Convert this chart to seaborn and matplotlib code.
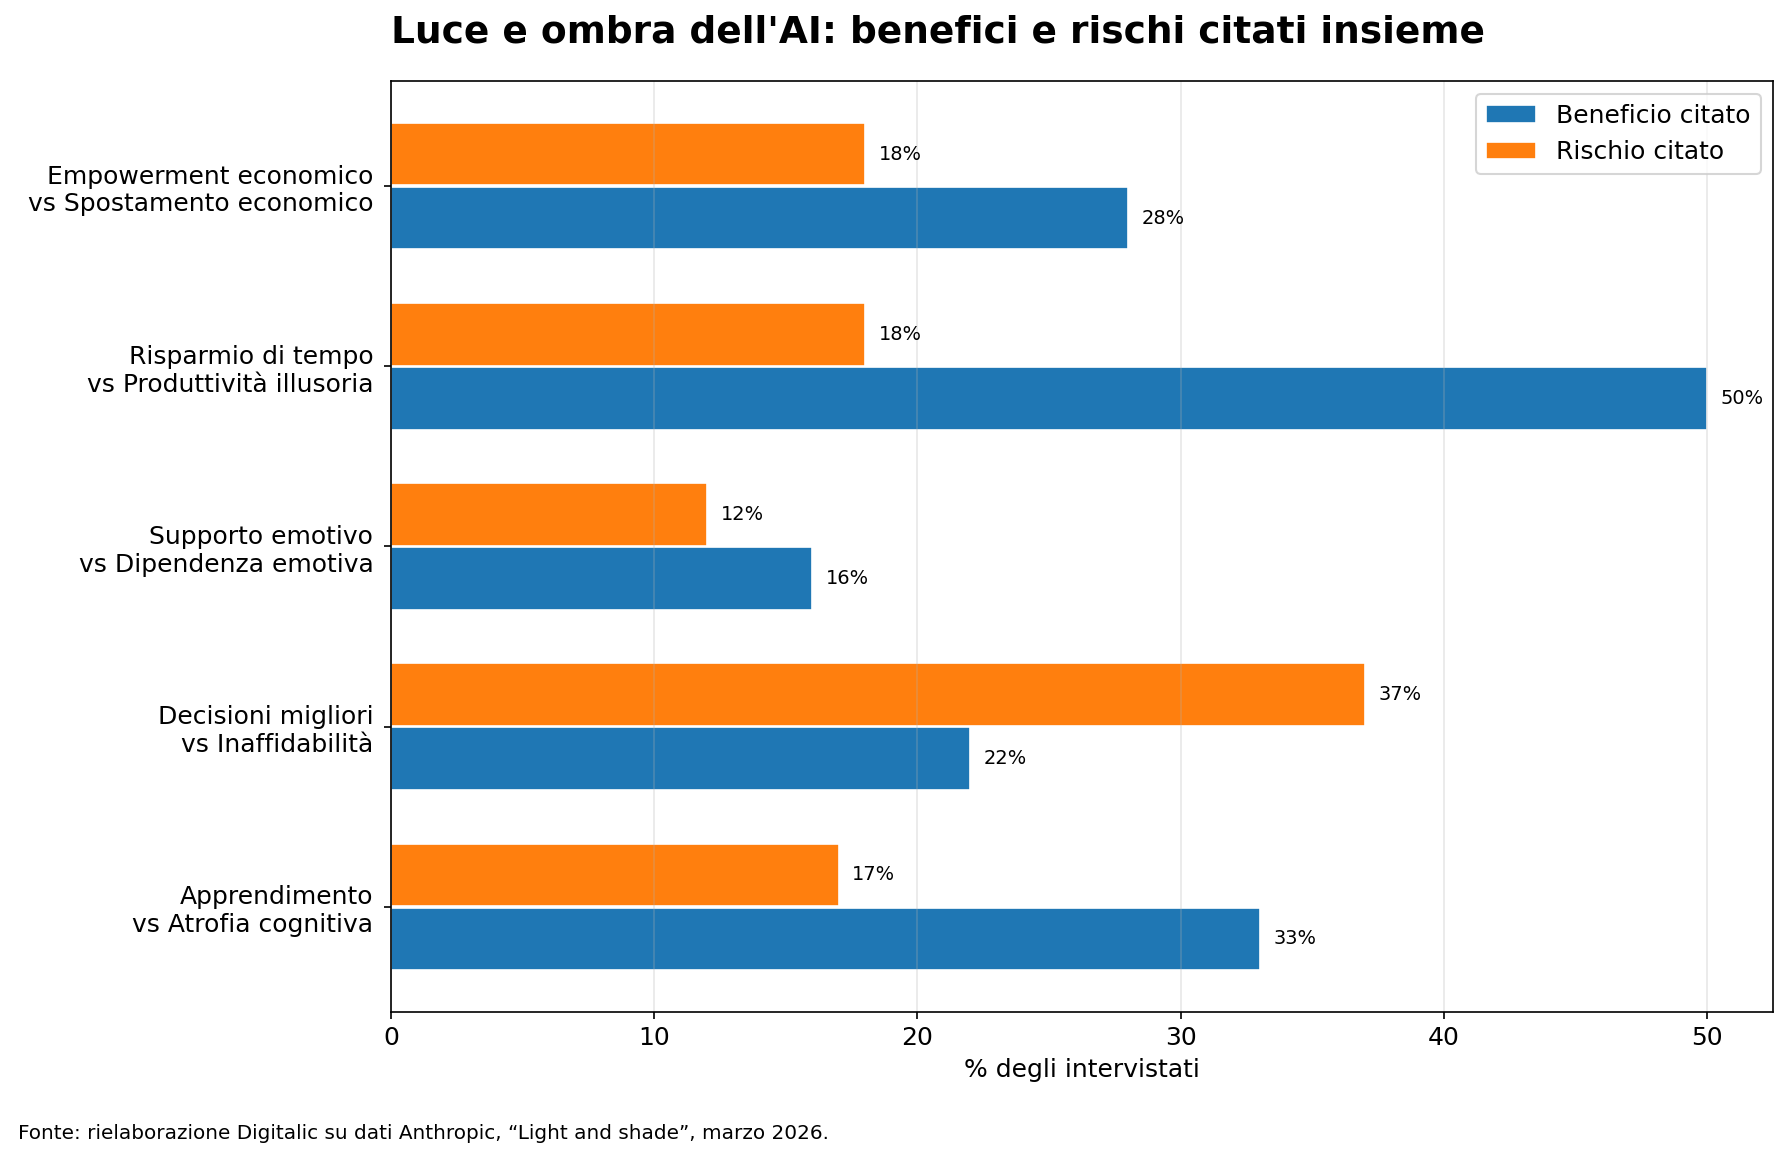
import pandas as pd
import seaborn as sns
import matplotlib.pyplot as plt

# Data
categories = [
    "Empowerment economico\nvs Spostamento economico",
    "Risparmio di tempo\nvs Produttività illusoria",
    "Supporto emotivo\nvs Dipendenza emotiva",
    "Decisioni migliori\nvs Inaffidabilità",
    "Apprendimento\nvs Atrofia cognitiva",
]
beneficio = [28, 50, 16, 22, 33]
rischio = [18, 18, 12, 37, 17]

df = pd.DataFrame({
    "categoria": categories * 2,
    "valore": beneficio + rischio,
    "tipo": ["Beneficio citato"] * len(categories) + ["Rischio citato"] * len(categories),
})

palette = {"Beneficio citato": "#1f77b4", "Rischio citato": "#ff7f0e"}

fig = plt.figure(figsize=(11.94, 7.76), dpi=150)
ax = fig.add_axes([0.2183, 0.131, 0.990 - 0.2183, 0.930 - 0.131])

sns.barplot(data=df, y="categoria", x="valore", hue="tipo", order=categories,
            hue_order=["Rischio citato", "Beneficio citato"], palette=palette,
            orient="h", width=0.71, gap=0.02, edgecolor="white", linewidth=0.8,
            saturation=1, ax=ax)

# Value labels at bar ends
for cont in ax.containers:
    ax.bar_label(cont, labels=[f"{int(b.get_width())}%" for b in cont], padding=6.5, fontsize=9.3)

ax.set_xlim(0, max(beneficio + rischio) * 1.05)
ax.set_ylim(len(categories) - 1 + 0.58, -0.58)
ax.set_xlabel("% degli intervistati", fontsize=12)
ax.set_ylabel("")
ax.tick_params(axis="x", labelsize=12)
ax.tick_params(axis="y", labelsize=12, pad=5)
ax.grid(axis="x", alpha=0.3)

# Legend with Beneficio first
handles, labels = ax.get_legend_handles_labels()
order = [labels.index("Beneficio citato"), labels.index("Rischio citato")]
ax.legend([handles[i] for i in order], [labels[i] for i in order], loc="upper right", fontsize=12)

fig.text(0.2183, 0.9725, "Luce e ombra dell'AI: benefici e rischi citati insieme",
         fontsize=18, fontweight="bold", ha="left", va="center")
fig.text(0.01, 0.026, "Fonte: rielaborazione Digitalic su dati Anthropic, \u201cLight and shade\u201d, marzo 2026.",
         fontsize=9.6, ha="left", va="center")

plt.savefig("out.png", dpi=150)
plt.close()
